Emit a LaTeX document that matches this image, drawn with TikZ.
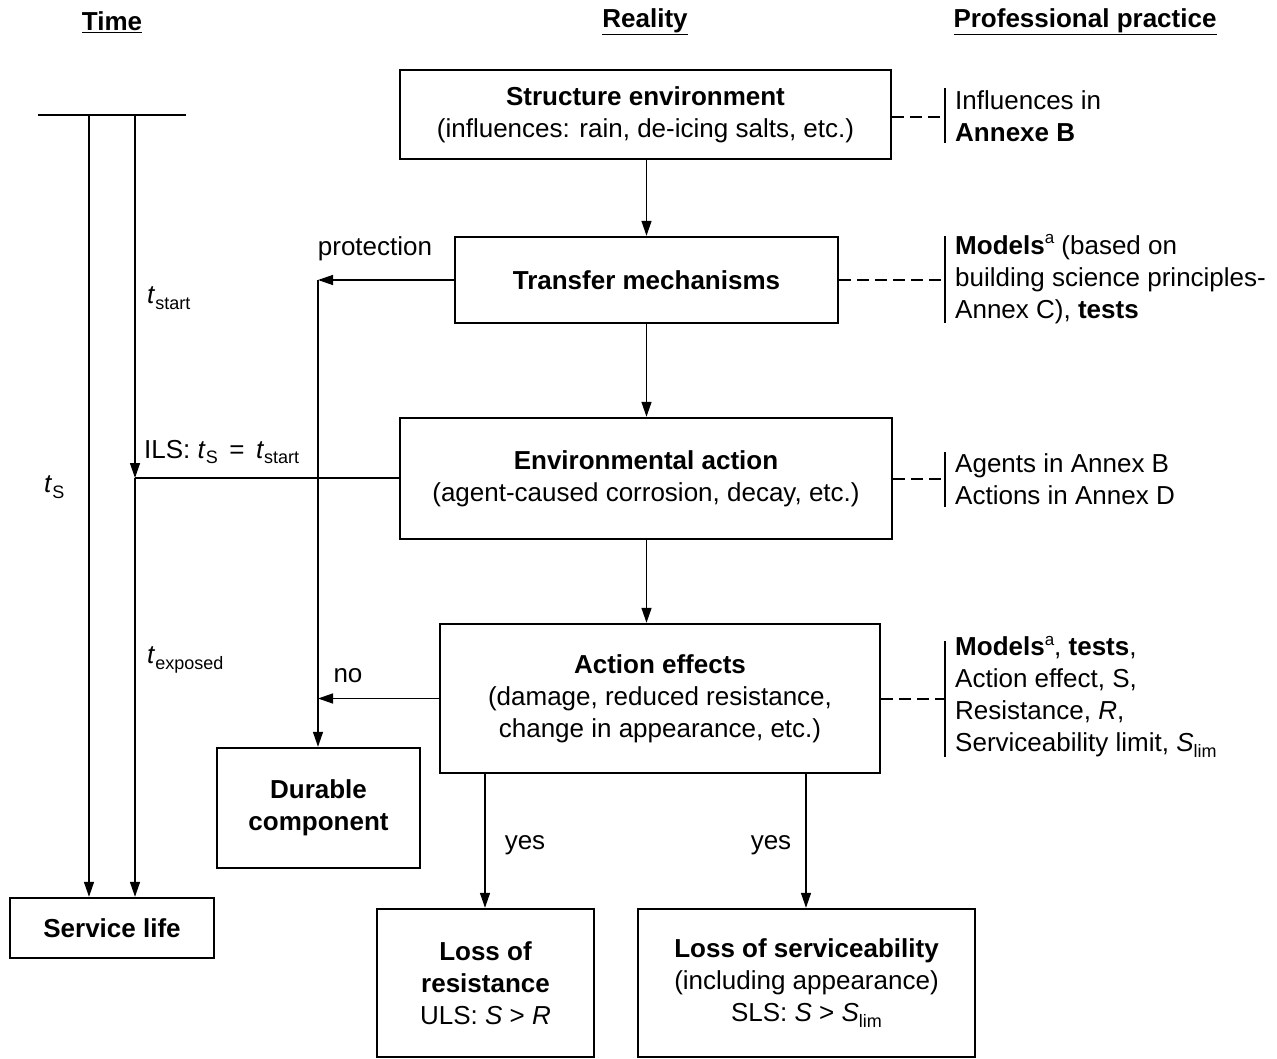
\documentclass[tikz,border=0pt]{standalone}
\usepackage{fontspec}
\setmainfont{Liberation Sans}
\usetikzlibrary{arrows.meta}
\newcommand\sbs[1]{\raisebox{-0.4ex}{\fontsize{18}{18}\selectfont\mdseries\upshape #1}}
\newcommand\sps[1]{\raisebox{0.75ex}{\fontsize{17}{17}\selectfont\mdseries\upshape #1}}
\begin{document}
\begin{tikzpicture}[x=1pt,y=-1pt,
  font=\fontsize{26}{32}\selectfont,
  box/.style={draw,line width=2.4pt,align=center,inner sep=0pt},
  conn/.style={line width=1.4pt},
  arr/.style={conn,-{Triangle[length=15pt,width=10pt]}},
  dsh/.style={line width=1.4pt,dash pattern=on 12pt off 6pt},
  bar/.style={line width=2.4pt},
  lbl/.style={inner sep=0pt}]
\useasboundingbox (0,0) rectangle (1277,1059);

% headings
\node[lbl] (hT) at (112,22) {\textbf{\underline{Time}}};
\node[lbl] (hR) at (645,22) {\textbf{\underline{Reality}}};
\node[lbl] (hP) at (1085,22) {\textbf{\underline{Professional practice}}};

% boxes
\node[box,minimum width=491pt,minimum height=89pt] (se) at (645.5,114.5)
  {\textbf{Structure environment}\\(influences: rain, de-icing salts, etc.)};
\node[box,minimum width=383pt,minimum height=86pt] (tm) at (646.5,280)
  {\textbf{Transfer mechanisms}};
\node[box,minimum width=492pt,minimum height=121pt] (ea) at (646,478.5)
  {\textbf{Environmental action}\\(agent-caused corrosion, decay, etc.)};
\node[box,minimum width=440pt,minimum height=149pt] (ae) at (660,698.5)
  {\textbf{Action effects}\\(damage, reduced resistance,\\change in appearance, etc.)};
\node[box,minimum width=203pt,minimum height=120pt] (dc) at (318.5,808)
  {\textbf{Durable}\\\textbf{component}};
\node[box,minimum width=217pt,minimum height=148pt] (lr) at (485.5,983)
  {\textbf{Loss of}\\\textbf{resistance}\\ULS: \textit{S} > \textit{R}};
\node[box,minimum width=337pt,minimum height=148pt] (ls) at (806.5,983)
  {\textbf{Loss of serviceability}\\(including appearance)\\SLS: \textit{S} > \textit{S}\sbs{lim}};
\node[box,minimum width=204pt,minimum height=60pt] (sl) at (112,928)
  {\textbf{Service life}};

% main flow
\draw[arr] (se.south -| tm.north) -- (tm.north);
\draw[arr] (tm.south) -- (tm.south |- ea.north);
\draw[arr] (tm.south |- ea.south) -- (tm.south |- ae.north);

% protection / no
\coordinate (pr) at (318,280);
\draw[arr] (tm.west) -- (pr);
\draw[arr] (pr) -- (pr |- dc.north);
\draw[arr] (ae.west) -- (ae.west -| pr);
\node[lbl] (lprot) at (375,249) {protection};
\node[lbl] (lno) at (348,676) {no};

% yes
\coordinate (y1) at (485,773);
\coordinate (y2) at (806,773);
\draw[arr] (y1) -- (y1 |- lr.north);
\draw[arr] (y2) -- (y2 |- ls.north);
\node[lbl] (lyes1) at (525,845) {yes};
\node[lbl] (lyes2) at (771,845) {yes};

% time axis
\coordinate (ta) at (38,115);
\coordinate (tb) at (186,115);
\draw[line width=2.4pt] (ta) -- (tb);
\coordinate (t1) at (89,115);
\coordinate (t2) at (135,115);
\coordinate (ils) at (135,478);
\draw[arr] (t1) -- (t1 |- sl.north);
\draw[arr] (t2) -- (ils);
\draw[arr] (ils) -- (ils |- sl.north);
\draw[conn] (ils) -- (ils -| ea.west);
\node[lbl,anchor=west] (lts) at (147,298) {\textit{t}\sbs{start}};
\node[lbl,anchor=west] (ltS) at (44,487) {\textit{t}\sbs{S}};
\node[lbl,anchor=west] (lils) at (144,452) {ILS: \textit{t}\sbs{S} \,=\, \textit{t}\sbs{start}};
\node[lbl,anchor=west] (lte) at (147,660) {\textit{t}\sbs{exposed}};

% professional practice
\node[lbl,anchor=west,align=left] (p1) at (955,116) {Influences in\\\textbf{Annexe B}};
\node[lbl,anchor=west,align=left] (p2) at (955,279) {\textbf{Models}\sps{a} (based on\\building science principles-\\Annex C), \textbf{tests}};
\node[lbl,anchor=west,align=left] (p3) at (955,479) {Agents in Annex B\\Actions in Annex D};
\node[lbl,anchor=west,align=left] (p4) at (955,697) {\textbf{Models}\sps{a}, \textbf{tests},\\Action effect, S,\\Resistance, \textit{R},\\Serviceability limit, \textit{S}\sbs{lim}};

\coordinate (b1) at (945,117);
\coordinate (b2) at (945,280);
\coordinate (b3) at (945,479);
\coordinate (b4) at (945,699);
\draw[dsh] (b1 -| se.east) -- (b1);
\draw[dsh] (tm.east) -- (b2);
\draw[dsh] (b3 -| ea.east) -- (b3);
\draw[dsh] (b4 -| ae.east) -- (b4);
\draw[bar] (945,88) -- (945,143);
\draw[bar] (945,236) -- (945,323);
\draw[bar] (945,452) -- (945,507);
\draw[bar] (945,641) -- (945,757);
\end{tikzpicture}
\end{document}
